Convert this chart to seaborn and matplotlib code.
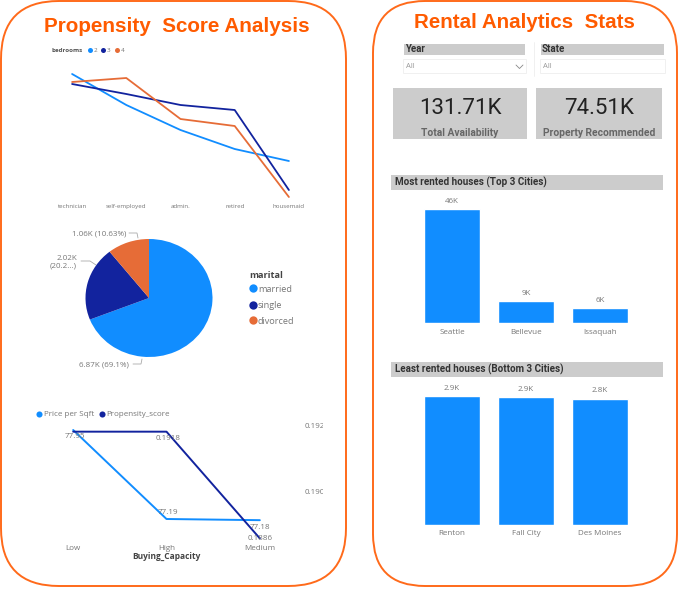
import matplotlib
matplotlib.use('Agg')
import matplotlib.pyplot as plt
import pandas as pd
import seaborn as sns
from matplotlib.patches import FancyBboxPatch, Rectangle
from matplotlib.transforms import Bbox

W, H = 679, 589

# line chart: bedrooms by job
jobs = ['technician', 'self-employed', 'admin.', 'retired', 'housemaid']
bed2 = [131, 100, 75, 56, 44]
bed3 = [121, 111, 100, 95, 15]
bed4 = [123, 127, 86, 79, 8]

# pie
marital = ['married', 'single', 'divorced']
marital_counts = [6870, 2020, 1060]
pie_labels = ['6.87K (69.1%)', '2.02K\n(20.2...)', '1.06K (10.63%)']

# buying capacity
capacity = ['Low', 'High', 'Medium']
price_sqft = [77.95, 77.19, 77.18]
propensity = [0.1918, 0.1918, 0.1886]
price_labels = ['77.95', '77.19', '77.18']
prop_labels = ['', '0.1918', '0.1886']

# kpi cards
kpi_values = ['131.71K', '74.51K']
kpi_names = ['Total Availability', 'Property Recommended']

# bars
top_cities = ['Seattle', 'Bellevue', 'Issaquah']
top_rented = [46000, 9000, 6000]
top_labels = ['46K', '9K', '6K']
low_cities = ['Renton', 'Fall City', 'Des Moines']
low_rented = [2900, 2870, 2840]
low_labels = ['2.9K', '2.9K', '2.8K']

BLUE = '#118DFF'
NAVY = '#12239E'
ORANGE = '#E66C37'
TITLE = '#FF5B00'
BORDER = '#FF6A1A'
GREY = '#CCCCCC'
TXT = '#777777'

sns.set_theme(style='white')
plt.rcParams['font.family'] = ['Open Sans', 'DejaVu Sans']

fig = plt.figure(figsize=(W / 100, H / 100), dpi=100)


def add_ax(x0, y0, x1, y1):
    # pixel box measured from the top left of the picture
    ax = fig.add_axes([x0 / W, 1 - y1 / H, (x1 - x0) / W, (y1 - y0) / H])
    ax.patch.set_alpha(0)
    return ax


bg = add_ax(0, 0, W, H)
bg.set_xlim(0, W)
bg.set_ylim(H, 0)
bg.axis('off')

# panels
for x0, x1, rad in [(1, 346, 58), (373, 677, 52)]:
    bg.add_patch(FancyBboxPatch((x0 + rad, 1 + rad), x1 - x0 - 2 * rad, 585 - 2 * rad,
                                boxstyle=f'round,pad={rad},rounding_size={rad}',
                                fc='white', ec=BORDER, lw=1.4))

bg.text(177, 27, 'Propensity  Score Analysis', family='Liberation Sans', weight='bold',
        color=TITLE, fontsize=14.9, ha='center', va='center')
bg.text(524, 23, 'Rental Analytics  Stats', family='Liberation Sans', weight='bold',
        color=TITLE, fontsize=14.8, ha='center', va='center')

# line chart
df = pd.DataFrame({'job': jobs * 3,
                   'score': bed2 + bed3 + bed4,
                   'bedrooms': ['2'] * 5 + ['3'] * 5 + ['4'] * 5})
ax1 = add_ax(45, 65, 316, 205)
sns.lineplot(data=df, x='job', y='score', hue='bedrooms', sort=False, ax=ax1, linewidth=1.3,
             palette=[BLUE, NAVY, ORANGE], legend=False)
ax1.set_xlim(-0.5, 4.5)
ax1.set_ylim(0, 140)
ax1.set_xlabel('')
ax1.set_ylabel('')
ax1.set_yticks([])
ax1.tick_params(axis='x', labelsize=4.4, labelcolor=TXT, length=0, pad=-1)
sns.despine(ax=ax1, left=True, bottom=True)

bg.text(51, 50, 'bedrooms', fontsize=4.5, weight='bold', color='#555555', va='center')
for cx, col, name in [(90, BLUE, '2'), (103, NAVY, '3'), (117, ORANGE, '4')]:
    bg.plot(cx, 50, 'o', ms=3.6, color=col, mec='none')
    bg.text(cx + 4, 50, name, fontsize=4.6, color=TXT, va='center')

# pie
ax2 = add_ax(85.5, 239, 212.5, 357)
ax2.pie(marital_counts, colors=[BLUE, NAVY, ORANGE], startangle=90, counterclock=False,
        radius=1, wedgeprops={'linewidth': 0})
ax2.set_aspect('auto')
ax2.set_xlim(-1, 1)
ax2.set_ylim(-1, 1)

bg.text(129, 365, pie_labels[0], fontsize=5.8, color=TXT, ha='right', va='center')
bg.plot([133, 141, 142], [364, 364, 359], color='#aaaaaa', lw=0.6)
bg.text(77, 262, pie_labels[1], fontsize=5.8, color=TXT, ha='right', va='center', linespacing=1.1)
bg.plot([81, 90, 96], [261, 261, 265], color='#aaaaaa', lw=0.6)
bg.text(126, 234, pie_labels[2], fontsize=5.8, color=TXT, ha='right', va='center')
bg.plot([129, 137, 138], [233, 233, 238], color='#aaaaaa', lw=0.6)

bg.text(249, 275, 'marital', fontsize=6.6, weight='bold', color='#444444', va='center')
for cy, col, name in zip([288, 304.5, 320], [BLUE, NAVY, ORANGE], marital):
    bg.plot(253, cy, 'o', ms=6, color=col, mec='none')
    bg.text(258, cy + 1, name, fontsize=6.6, color=TXT, va='center')

# buying capacity, two scales
buy = pd.DataFrame({'cap': capacity, 'price': price_sqft, 'prop': propensity})
ax3 = add_ax(26.5, 420, 306.5, 545)
sns.lineplot(data=buy, x='cap', y='price', sort=False, ax=ax3, color=BLUE, linewidth=1.4)
ax3.set_xlim(-0.5, 2.5)
# 0.76 units span 89 px in the picture
ax3.set_ylim(77.95 - (545 - 430) * 0.76 / 89, 77.95 + (430 - 420) * 0.76 / 89)
ax3.set_yticks([])
ax3.set_ylabel('')
ax3.set_xlabel('Buying_Capacity', fontsize=6, weight='bold', color='#444444', labelpad=0)
ax3.tick_params(axis='x', labelsize=5.8, labelcolor=TXT, length=0, pad=0)

ax3b = ax3.twinx()
sns.lineplot(data=buy, x='cap', y='prop', sort=False, ax=ax3b, color=NAVY, linewidth=1.4)
# 0.002 units span 66.7 px
ax3b.set_ylim(0.192 - (545 - 425) * 0.002 / 66.7, 0.192 + (425 - 420) * 0.002 / 66.7)
ax3b.set_yticks([0.19, 0.192], ['0.190', '0.192'])
ax3b.set_ylabel('')
ax3b.tick_params(axis='y', labelsize=5.8, labelcolor=TXT, length=0, pad=-1)
ax3b.patch.set_alpha(0)
clip = Bbox([[0, 0], [322.5, H]])
for lab in ax3b.get_yticklabels():
    lab.set_clip_box(clip)
    lab.set_clip_on(True)
sns.despine(ax=ax3, left=True, bottom=True)
sns.despine(ax=ax3b, left=True, right=True, bottom=True)

for i, off in enumerate([(1, -5), (1, 5), (0, -5)]):
    ax3.annotate(price_labels[i], (i, price_sqft[i]), xytext=off, textcoords='offset points',
                 fontsize=5.8, color=TXT, ha='center', va='center')
for i, off in enumerate([(0, 0), (1, -5), (0, 0)]):
    if prop_labels[i]:
        ax3b.annotate(prop_labels[i], (i, propensity[i]), xytext=off, textcoords='offset points',
                      fontsize=5.8, color=TXT, ha='center', va='center')

bg.plot(39, 414, 'o', ms=4.4, color=BLUE, mec='none')
bg.text(44, 414, 'Price per Sqft', fontsize=5.8, color=TXT, va='center')
bg.plot(102, 414, 'o', ms=4.4, color=NAVY, mec='none')
bg.text(106.5, 414, 'Propensity_score', fontsize=5.8, color=TXT, va='center')

# slicers
for x0, x1, name in [(404, 525, 'Year'), (541, 664, 'State')]:
    bg.add_patch(Rectangle((x0, 44), x1 - x0, 10.5, fc=GREY, ec='none'))
    bg.text(x0 + 1, 49.5, name, family='Roboto', weight='bold', fontsize=7, color='#333333', va='center')
    bg.add_patch(Rectangle((x0 - 1, 59), x1 - x0 + 2, 14, fc='white', ec='#eeeeee', lw=0.6))
    bg.text(x0 + 2, 67, 'All', fontsize=5.5, color='#999999', va='center')
bg.plot([516, 519.5, 523], [65, 68.5, 65], color='#888888', lw=0.6)
bg.plot([534, 534], [42, 76], color='#eeeeee', lw=0.6)

# kpi cards
for (x0, x1), val, name in zip([(393, 527), (536, 662)], kpi_values, kpi_names):
    bg.add_patch(Rectangle((x0, 88), x1 - x0, 51, fc=GREY, ec='none'))
    bg.text((x0 + x1) / 2, 109, val, family='Roboto', fontsize=16, color='#222222', ha='center', va='center')
    bg.text((x0 + x1) / 2, 132.5, name, family='Roboto', weight='bold', fontsize=7.4, color='#666666',
            ha='center', va='center')

# section bars
for y0, name in [(175, 'Most rented houses (Top 3 Cities)'), (362, 'Least rented houses (Bottom 3 Cities)')]:
    bg.add_patch(Rectangle((391, y0), 272, 14.5, fc=GREY, ec='none'))
    bg.text(395, y0 + 7, name, family='Roboto', weight='bold', fontsize=7.1, color='#333333', va='center')

# bar charts
for box, cities, vals, labels, top in [
    ((415, 200, 637, 323), top_cities, top_rented, top_labels, 46000 * 123 / 114),
    ((415, 385, 637, 524.7), low_cities, low_rented, low_labels, 2900 * 139.7 / 128.7),
]:
    ax = add_ax(*box)
    sns.barplot(x=cities, y=vals, color=BLUE, saturation=1, width=0.757, ax=ax)
    ax.set_xlim(-0.5, 2.5)
    ax.set_ylim(0, top)
    ax.set_yticks([])
    ax.tick_params(axis='x', labelsize=5.8, labelcolor=TXT, length=0, pad=4)
    ax.bar_label(ax.containers[0], labels=labels, fontsize=5.8, color=TXT, padding=3)
    sns.despine(ax=ax, left=True, bottom=True)

fig.savefig('out.png', dpi=100)
